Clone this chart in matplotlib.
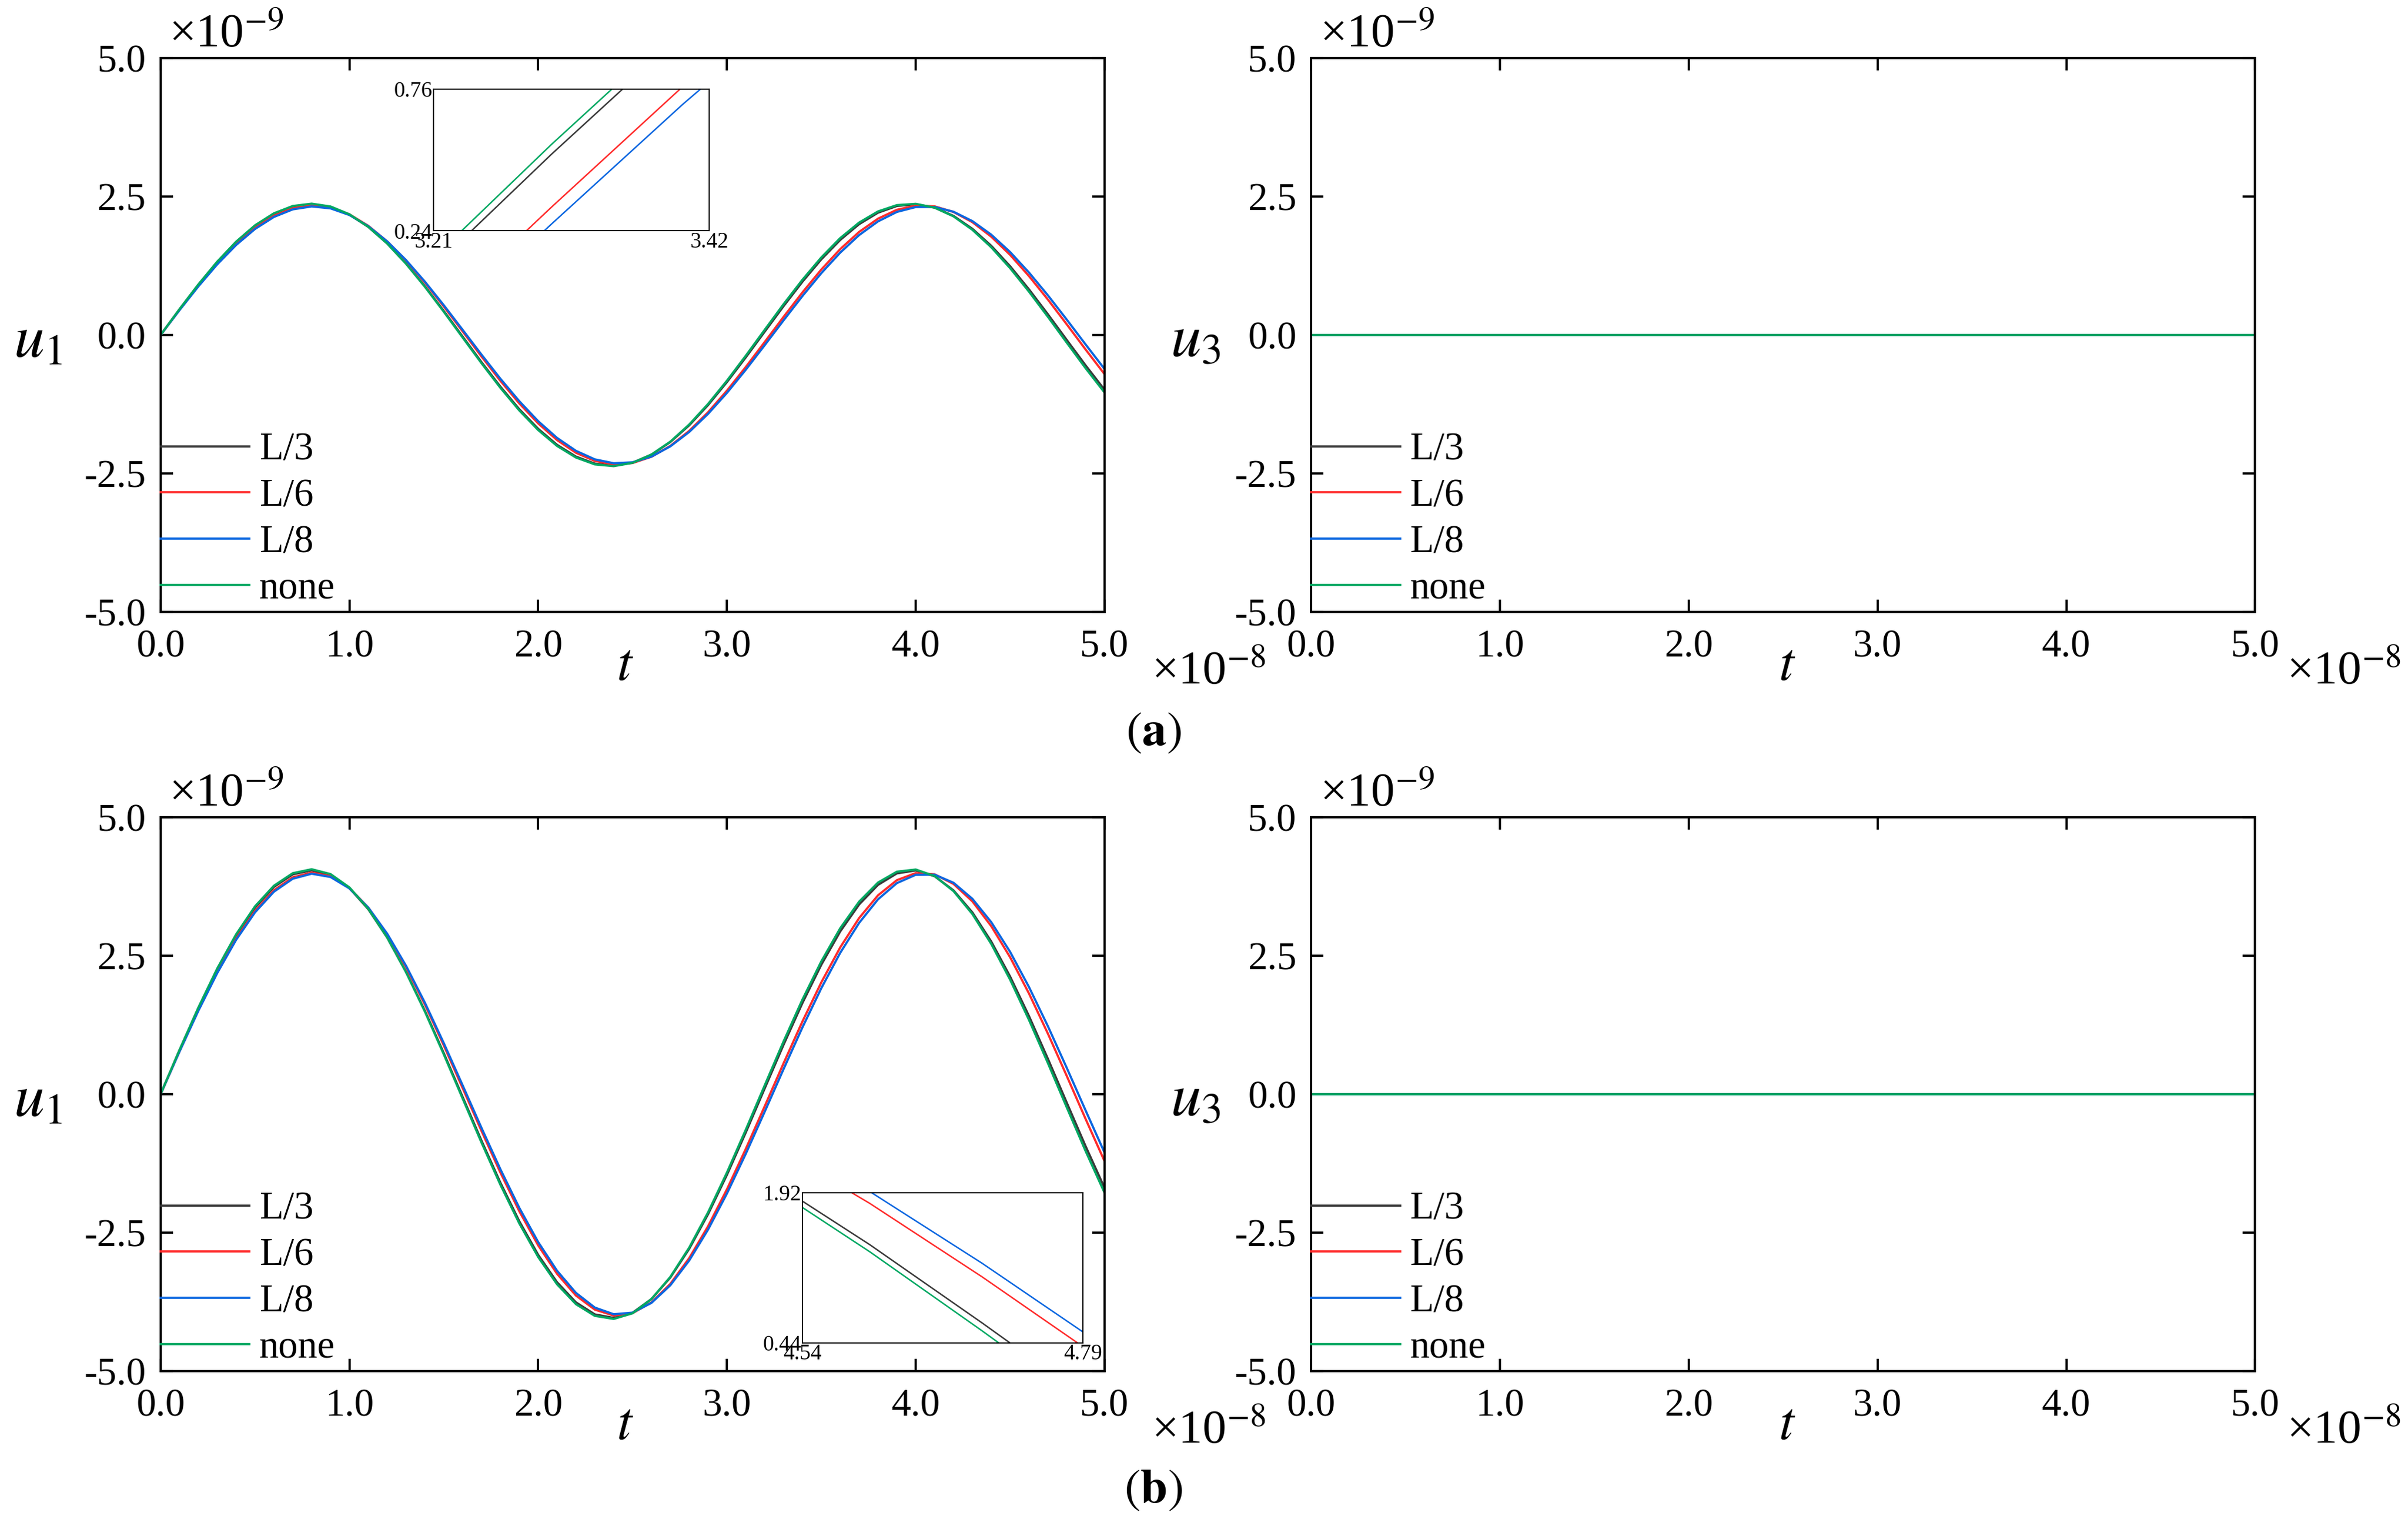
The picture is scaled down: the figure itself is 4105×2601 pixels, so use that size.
import numpy as np
import matplotlib
matplotlib.use("Agg")
import matplotlib.pyplot as plt
from matplotlib.ticker import FormatStrFormatter

plt.rcParams['font.family'] = ['Liberation Serif', 'DejaVu Serif']
plt.rcParams['mathtext.fontset'] = 'stix'

# time axis (units of 1e-8 s), sampled every 0.1
t = np.linspace(0.0, 5.0, 51)

labels = ["L/3", "L/6", "L/8", "none"]
colors = ["#3a3a3a", "#ff2b2b", "#0a66e0", "#00a862"]

# case (a): u1 (units of 1e-9)
u1_a_L3 = [0.000, 0.462, 0.907, 1.316, 1.674, 1.968, 2.185, 2.317, 2.360, 2.311,
           2.173, 1.951, 1.653, 1.291, 0.879, 0.433, -0.030, -0.492, -0.934, -1.341,
           -1.695, -1.984, -2.196, -2.323, -2.360, -2.305, -2.161, -1.933, -1.631, -1.265,
           -0.850, -0.403, 0.060, 0.521, 0.962, 1.366, 1.716, 2.000, 2.207, 2.328,
           2.359, 2.298, 2.149, 1.916, 1.609, 1.240, 0.822, 0.373, -0.091, -0.551, -0.990]
u1_a_L6 = [0.000, 0.453, 0.888, 1.290, 1.643, 1.935, 2.153, 2.289, 2.340, 2.302,
           2.177, 1.970, 1.688, 1.343, 0.947, 0.515, 0.064, -0.390, -0.829, -1.236,
           -1.597, -1.898, -2.127, -2.275, -2.338, -2.312, -2.199, -2.003, -1.732, -1.395,
           -1.005, -0.577, -0.127, 0.327, 0.769, 1.182, 1.550, 1.860, 2.099, 2.260,
           2.335, 2.321, 2.220, 2.036, 1.774, 1.445, 1.062, 0.639, 0.191, -0.264, -0.708]
u1_a_L8 = [0.000, 0.447, 0.877, 1.275, 1.624, 1.913, 2.130, 2.267, 2.320, 2.285,
           2.165, 1.964, 1.689, 1.351, 0.962, 0.537, 0.092, -0.356, -0.791, -1.196,
           -1.557, -1.859, -2.092, -2.246, -2.316, -2.299, -2.196, -2.011, -1.751, -1.424,
           -1.045, -0.626, -0.184, 0.265, 0.704, 1.117, 1.487, 1.803, 2.050, 2.221,
           2.309, 2.310, 2.224, 2.055, 1.810, 1.496, 1.126, 0.715, 0.276, -0.173, -0.615]
u1_a_none = [0.000, 0.465, 0.912, 1.324, 1.684, 1.979, 2.196, 2.328, 2.370, 2.319,
             2.178, 1.952, 1.651, 1.285, 0.869, 0.419, -0.047, -0.511, -0.955, -1.363,
             -1.717, -2.004, -2.213, -2.337, -2.369, -2.309, -2.159, -1.926, -1.617, -1.245,
             -0.825, -0.373, 0.094, 0.557, 0.998, 1.401, 1.749, 2.029, 2.230, 2.344,
             2.367, 2.298, 2.140, 1.898, 1.582, 1.205, 0.781, 0.327, -0.140, -0.602, -1.040]

# case (b): u1 (units of 1e-9)
u1_b_L3 = [0.000, 0.791, 1.552, 2.253, 2.866, 3.368, 3.740, 3.967, 4.040, 3.957,
           3.720, 3.339, 2.829, 2.209, 1.504, 0.740, -0.052, -0.842, -1.600, -2.295,
           -2.902, -3.396, -3.759, -3.976, -4.039, -3.946, -3.699, -3.310, -2.792, -2.166,
           -1.456, -0.690, 0.104, 0.893, 1.647, 2.338, 2.938, 3.424, 3.778, 3.985,
           4.038, 3.934, 3.678, 3.280, 2.754, 2.122, 1.408, 0.638, -0.155, -0.943, -1.694]
u1_b_L6 = [0.000, 0.774, 1.518, 2.205, 2.809, 3.307, 3.680, 3.914, 4.000, 3.935,
           3.721, 3.367, 2.886, 2.295, 1.618, 0.880, 0.109, -0.666, -1.417, -2.114,
           -2.730, -3.244, -3.636, -3.890, -3.997, -3.953, -3.760, -3.425, -2.960, -2.384,
           -1.717, -0.986, -0.218, 0.559, 1.314, 2.020, 2.650, 3.179, 3.589, 3.863,
           3.991, 3.968, 3.795, 3.480, 3.032, 2.470, 1.815, 1.092, 0.327, -0.451, -1.211]
u1_b_L8 = [0.000, 0.767, 1.505, 2.186, 2.786, 3.282, 3.654, 3.889, 3.979, 3.920,
           3.714, 3.368, 2.897, 2.317, 1.650, 0.921, 0.158, -0.611, -1.357, -2.053,
           -2.671, -3.189, -3.588, -3.853, -3.973, -3.944, -3.768, -3.450, -3.003, -2.444,
           -1.793, -1.074, -0.316, 0.454, 1.207, 1.915, 2.552, 3.092, 3.517, 3.810,
           3.960, 3.962, 3.816, 3.526, 3.104, 2.567, 1.932, 1.226, 0.473, -0.297, -1.056]
u1_b_none = [0.000, 0.797, 1.563, 2.268, 2.885, 3.390, 3.762, 3.989, 4.060, 3.973,
             3.732, 3.345, 2.828, 2.201, 1.489, 0.718, -0.080, -0.876, -1.637, -2.334,
             -2.941, -3.433, -3.792, -4.003, -4.058, -3.956, -3.699, -3.299, -2.770, -2.133,
             -1.414, -0.639, 0.160, 0.954, 1.710, 2.399, 2.996, 3.475, 3.820, 4.016,
             4.055, 3.937, 3.665, 3.251, 2.711, 2.065, 1.338, 0.560, -0.241, -1.031, -1.782]

# u3 stays at zero for every case
u3_L3 = [0.0] * 51
u3_L6 = [0.0] * 51
u3_L8 = [0.0] * 51
u3_none = [0.0] * 51

x_ticks = [0.0, 1.0, 2.0, 3.0, 4.0, 5.0]
y_ticks = [-5.0, -2.5, 0.0, 2.5, 5.0]

inset_a_xlim = (3.21, 3.42)
inset_a_ylim = (0.24, 0.76)
inset_b_xlim = (4.54, 4.79)
inset_b_ylim = (0.44, 1.92)


def style_main(ax):
    ax.set_xlim(0, 5)
    ax.set_ylim(-5, 5)
    ax.set_xticks(x_ticks)
    ax.set_yticks(y_ticks)
    ax.xaxis.set_major_formatter(FormatStrFormatter('%.1f'))
    ax.yaxis.set_major_formatter(FormatStrFormatter('%.1f'))
    ax.tick_params(direction='in', top=True, right=True, length=5, width=0.9,
                   labelsize=16)
    ax.tick_params(axis='y', pad=6)
    ax.tick_params(axis='x', pad=7)
    for s in ax.spines.values():
        s.set_linewidth(0.9)


def draw_curves(ax, series, lw=0.9):
    lines = []
    for y, c, lab in zip(series, colors, labels):
        ln, = ax.plot(t, y, color=c, lw=lw, label=lab)
        lines.append(ln)
    return lines


def add_texts(ax, ylab, ylab_x, tlab_x, xoff_x):
    ax.text(ylab_x, 0.461, ylab, transform=ax.transAxes, fontsize=25,
            ha='left', va='baseline')
    ax.text(tlab_x / 5.0, -0.0996, '$t$', transform=ax.transAxes, fontsize=22,
            ha='center', va='center')
    ax.text(0.009, 1.019, '×10$^{-9}$', transform=ax.transAxes,
            fontsize=19.5, ha='left', va='baseline')
    ax.text(xoff_x, -0.131, '×10$^{-8}$', transform=ax.transAxes,
            fontsize=19.5, ha='left', va='baseline')


def add_legend(ax, lines):
    ax.legend(lines, labels, loc='lower left', bbox_to_anchor=(0.0, 0.0096),
              frameon=False, fontsize=16, handlelength=2.27, handletextpad=0.25,
              labelspacing=0.265, borderpad=0, borderaxespad=0)


def add_inset(ax, series, rect, xlim, ylim):
    ins = ax.inset_axes(rect)
    for y, c in zip(series, colors):
        ins.plot(t, y, color=c, lw=0.6)
    ins.set_xlim(*xlim)
    ins.set_ylim(*ylim)
    ins.set_xticks(list(xlim))
    ins.set_yticks(list(ylim))
    ins.xaxis.set_major_formatter(FormatStrFormatter('%.2f'))
    ins.yaxis.set_major_formatter(FormatStrFormatter('%.2f'))
    ins.tick_params(length=0, labelsize=9, pad=0.5)
    for s in ins.spines.values():
        s.set_linewidth(0.5)
    return ins


fig = plt.figure(figsize=(4105 / 300, 2601 / 300), dpi=300)

ax_a1 = fig.add_axes([0.0667, 0.599, 0.392, 0.363])
ax_a3 = fig.add_axes([0.5445, 0.599, 0.392, 0.363])
ax_b1 = fig.add_axes([0.0667, 0.1015, 0.392, 0.363])
ax_b3 = fig.add_axes([0.5445, 0.1015, 0.392, 0.363])

series_a1 = [u1_a_L3, u1_a_L6, u1_a_L8, u1_a_none]
series_b1 = [u1_b_L3, u1_b_L6, u1_b_L8, u1_b_none]
series_3 = [u3_L3, u3_L6, u3_L8, u3_none]

for ax, ser, ylab, ylx, tx, xo in [
        (ax_a1, series_a1, '$u_1$', -0.156, 2.46, 1.0497),
        (ax_a3, series_3, '$u_3$', -0.149, 2.52, 1.0335),
        (ax_b1, series_b1, '$u_1$', -0.156, 2.46, 1.0497),
        (ax_b3, series_3, '$u_3$', -0.149, 2.52, 1.0335)]:
    style_main(ax)
    lines = draw_curves(ax, ser)
    add_legend(ax, lines)
    add_texts(ax, ylab, ylx, tx, xo)

add_inset(ax_a1, series_a1, [0.289, 0.688, 0.292, 0.256], inset_a_xlim, inset_a_ylim)
add_inset(ax_b1, series_b1, [0.680, 0.051, 0.297, 0.271], inset_b_xlim, inset_b_ylim)

fig.text(0.479, 0.519, r'$(\mathbf{a})$', fontsize=20, ha='center', va='center')
fig.text(0.479, 0.023, r'$(\mathbf{b})$', fontsize=20, ha='center', va='center')

fig.savefig('out.png', dpi=300)
